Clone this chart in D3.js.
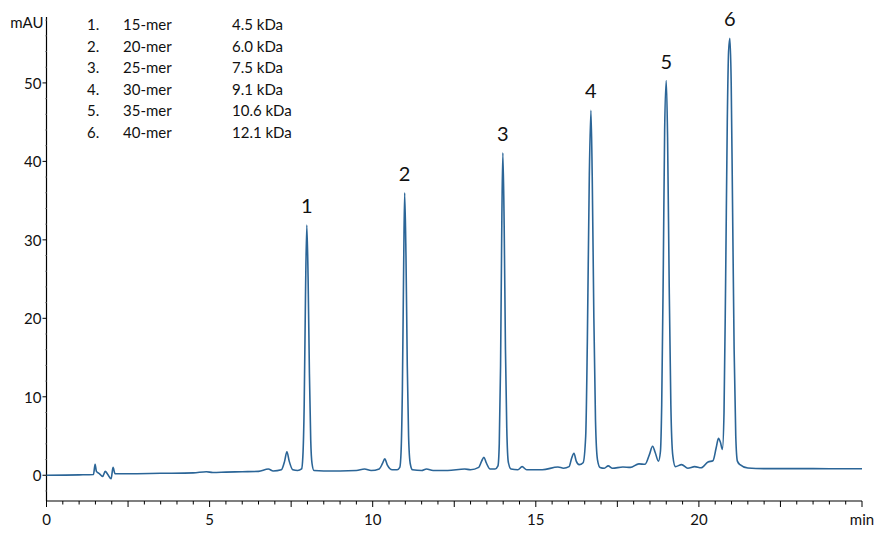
<!DOCTYPE html>
<html>
<head>
<meta charset="utf-8">
<script src="https://cdn.jsdelivr.net/npm/d3@7"></script>
<style>
  html, body { margin: 0; padding: 0; background: #fff; }
  svg { display: block; font-family: Lato, "Open Sans", sans-serif; }
</style>
</head>
<body>
<svg id="chart" width="888" height="536"></svg>
<script>
// ---- data ----
const legendNumbers = ["1.", "2.", "3.", "4.", "5.", "6."];
const legendNames = ["15-mer", "20-mer", "25-mer", "30-mer", "35-mer", "40-mer"];
const legendMasses = ["4.5 kDa", "6.0 kDa", "7.5 kDa", "9.1 kDa", "10.6 kDa", "12.1 kDa"];

const peakLabels = ["1", "2", "3", "4", "5", "6"];
const peakTimes = [7.98, 10.98, 13.99, 16.69, 19.0, 20.95];
const peakHeights = [31.9, 36.0, 41.1, 46.5, 50.3, 55.7];

const xTickValues = [0, 5, 10, 15, 20, 25];
const xTickLabels = ["0", "5", "10", "15", "20", "min"];
const yTickValues = [0, 10, 20, 30, 40, 50];

// chromatogram trace: retention time (min), absorbance (mAU)
const traceTime = [
  0, 1.0, 1.44, 1.49, 1.53, 1.62, 1.72, 1.80, 1.88, 1.98, 2.04, 2.10, 2.5, 3.5, 4.5, 4.9, 5.1, 5.5, 6.0, 6.5, 6.8, 6.95, 7.2, 7.3, 7.37, 7.44, 7.55, 7.70, 7.82,
  7.86, 7.90, 7.94, 7.98, 8.02, 8.06, 8.10, 8.14, 8.20,
  8.5, 9.0, 9.5, 9.75, 9.95, 10.2, 10.3, 10.37, 10.45, 10.6, 10.75, 10.83,
  10.87, 10.91, 10.95, 10.98, 11.02, 11.06, 11.10, 11.15, 11.22,
  11.5, 11.65, 11.85, 12.3, 12.82, 13.0, 13.25, 13.34, 13.41, 13.48, 13.6, 13.75, 13.84,
  13.88, 13.92, 13.96, 13.99, 14.03, 14.07, 14.11, 14.16, 14.24,
  14.45, 14.58, 14.72, 15.2, 15.68, 15.85, 16.02, 16.1, 16.17, 16.24, 16.33, 16.45,
  16.53, 16.58, 16.64, 16.69, 16.73, 16.78, 16.83, 16.89, 16.97,
  17.1, 17.22, 17.35, 17.67, 17.9, 18.16, 18.35, 18.48, 18.58, 18.66, 18.76, 18.82,
  18.86, 18.91, 18.95, 19.0, 19.04, 19.09, 19.14, 19.20, 19.28,
  19.47, 19.66, 19.87, 20.07, 20.28, 20.43, 20.53, 20.6, 20.66, 20.72, 20.77,
  20.82, 20.87, 20.91, 20.95, 20.99, 21.03, 21.08, 21.13, 21.18, 21.26, 21.5, 22, 23, 24, 25
];
const traceValue = [
  0, 0.05, 0.1, 1.4, 0.5, 0.2, -0.15, 0.5, 0.1, -0.45, 1.0, 0.2, 0.2, 0.25, 0.3, 0.45, 0.35, 0.4, 0.45, 0.5, 0.8, 0.55, 0.7, 1.8, 3.0, 1.8, 0.7, 0.6, 0.8,
  2.5, 9, 23, 31.9, 25, 13, 4.5, 1.5, 0.6,
  0.55, 0.55, 0.6, 0.8, 0.6, 0.8, 1.5, 2.1, 1.3, 0.7, 0.7, 1.0,
  3, 11, 27, 36.0, 28, 14, 5, 1.5, 0.7,
  0.6, 0.8, 0.6, 0.6, 0.8, 0.7, 1.0, 1.8, 2.3, 1.6, 0.8, 0.8, 1.2,
  4, 14, 33, 41.1, 32, 16, 6, 1.6, 0.8,
  0.7, 1.1, 0.7, 0.7, 1.05, 0.9, 1.1, 2.2, 2.8, 1.8, 1.35, 1.6,
  5, 17, 38, 46.5, 38, 20, 7, 2, 1.0,
  0.9, 1.2, 0.9, 1.05, 1.0, 1.45, 1.4, 2.6, 3.7, 2.9, 1.8, 3,
  9, 27, 44, 50.3, 43, 24, 9, 2.5, 1.1,
  1.35, 0.9, 1.1, 0.95, 1.7, 1.85, 3.5, 4.7, 4.2, 3.3, 8,
  25, 45, 54, 55.7, 50, 35, 16, 5, 1.8, 1.35, 0.92, 0.85, 0.85, 0.83, 0.83
];

(function () {
  const svg = d3.select("#chart");
  const mLeft = 46.5, mRight = 862, mTop = 17, mBottom = 501;
  const lineColor = "#2b6597";
  const fs = 15;

  const x = d3.scaleLinear().domain([0, 25]).range([mLeft, mRight]);
  const y = d3.scaleLinear().domain([-3.28, 58.4]).range([mBottom, mTop]);

  // x axis
  const xAxis = svg.append("g").attr("transform", `translate(0,${mBottom})`);
  xAxis.append("line").attr("x1", mLeft).attr("x2", mRight).attr("stroke", "#000").attr("stroke-width", 1.2);
  const minorX = d3.range(0, 25.001, 0.5);
  xAxis.selectAll("line.tick").data(minorX).join("line")
    .attr("class", "tick")
    .attr("x1", d => x(d)).attr("x2", d => x(d))
    .attr("y1", 0)
    .attr("y2", d => (Math.abs(d % 2.5) < 1e-6 ? 6 : 3.5))
    .attr("stroke", "#000").attr("stroke-width", 1);
  xAxis.selectAll("text").data(xTickValues).join("text")
    .attr("x", d => x(d)).attr("y", 17.5)
    .attr("text-anchor", "middle").attr("dominant-baseline", "central")
    .attr("font-size", fs).attr("fill", "#111")
    .text((d, i) => xTickLabels[i]);

  // y axis
  const yAxis = svg.append("g");
  yAxis.append("line").attr("x1", mLeft).attr("x2", mLeft).attr("y1", mTop).attr("y2", mBottom)
    .attr("stroke", "#000").attr("stroke-width", 1.2);
  const minorY = d3.range(-2, 58.01, 2).filter(d => d % 10 !== 0);
  yAxis.selectAll("line.minor").data(minorY).join("line")
    .attr("class", "minor")
    .attr("x1", mLeft - 1.5).attr("x2", mLeft)
    .attr("y1", d => y(d)).attr("y2", d => y(d))
    .attr("stroke", "#999").attr("stroke-width", 1);
  yAxis.selectAll("line.major").data(yTickValues).join("line")
    .attr("class", "major")
    .attr("x1", mLeft - 4).attr("x2", mLeft)
    .attr("y1", d => y(d)).attr("y2", d => y(d))
    .attr("stroke", "#000").attr("stroke-width", 1);
  yAxis.selectAll("text").data(yTickValues).join("text")
    .attr("x", mLeft - 5).attr("y", d => y(d))
    .attr("text-anchor", "end").attr("dominant-baseline", "central")
    .attr("font-size", fs).attr("fill", "#111")
    .text(d => d);
  yAxis.append("text")
    .attr("x", mLeft - 3).attr("y", 22)
    .attr("text-anchor", "end").attr("dominant-baseline", "central")
    .attr("font-size", 15).attr("fill", "#111")
    .text("mAU");

  // trace
  const pts = traceTime.map((t, i) => [t, traceValue[i]]);
  const line = d3.line().x(d => x(d[0])).y(d => y(d[1])).curve(d3.curveMonotoneX);
  svg.append("path").datum(pts)
    .attr("d", line)
    .attr("fill", "none")
    .attr("stroke", lineColor)
    .attr("stroke-width", 1.6)
    .attr("stroke-linejoin", "round");

  // peak labels
  svg.selectAll("text.peak").data(peakLabels).join("text")
    .attr("class", "peak")
    .attr("x", (d, i) => x(peakTimes[i]))
    .attr("y", (d, i) => y(peakHeights[i]) - 20)
    .attr("text-anchor", "middle").attr("dominant-baseline", "central")
    .attr("font-size", 20).attr("fill", "#111")
    .text(d => d);

  // legend
  const legend = svg.append("g");
  const rowY = i => 24 + i * 21.6;
  legend.selectAll("text.num").data(legendNumbers).join("text")
    .attr("class", "num").attr("x", 87).attr("y", (d, i) => rowY(i))
    .attr("dominant-baseline", "central").attr("font-size", fs).attr("fill", "#111").text(d => d);
  legend.selectAll("text.name").data(legendNames).join("text")
    .attr("class", "name").attr("x", 123).attr("y", (d, i) => rowY(i))
    .attr("dominant-baseline", "central").attr("font-size", fs).attr("fill", "#111").text(d => d);
  legend.selectAll("text.mass").data(legendMasses).join("text")
    .attr("class", "mass").attr("x", 232).attr("y", (d, i) => rowY(i))
    .attr("dominant-baseline", "central").attr("font-size", fs).attr("fill", "#111").text(d => d);
})();
</script>
</body>
</html>
